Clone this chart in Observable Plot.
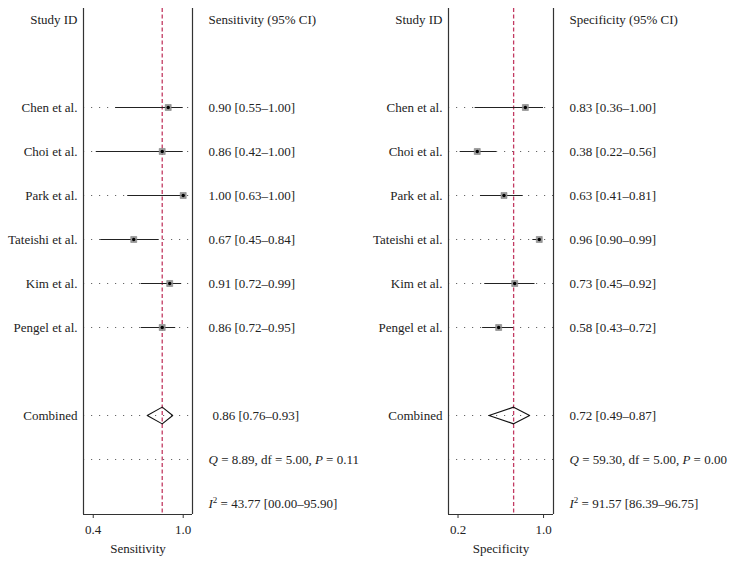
<!DOCTYPE html>
<html><head><meta charset="utf-8">
<script src="https://cdn.jsdelivr.net/npm/d3@7"></script>
<script src="https://cdn.jsdelivr.net/npm/@observablehq/plot@0.6"></script>
<style>
body{margin:0;background:#fff;}
#wrap{display:flex;width:737px;height:566px;}
#wrap svg{overflow:visible;}
</style></head><body><div id="wrap"></div>
<script>
// ---- data ----
const studies = ["Chen et al.", "Choi et al.", "Park et al.", "Tateishi et al.", "Kim et al.", "Pengel et al."];
const sens   = [0.90, 0.86, 1.00, 0.67, 0.91, 0.86];
const sensLo = [0.55, 0.42, 0.63, 0.45, 0.72, 0.72];
const sensHi = [1.00, 1.00, 1.00, 0.84, 0.99, 0.95];
const spec   = [0.83, 0.38, 0.63, 0.96, 0.73, 0.58];
const specLo = [0.36, 0.22, 0.41, 0.90, 0.45, 0.43];
const specHi = [1.00, 0.56, 0.81, 0.99, 0.92, 0.72];
const pooledSens = [0.86, 0.76, 0.93];   // estimate, lo, hi
const pooledSpec = [0.72, 0.49, 0.87];
const qStat = [8.89, 59.30];
const dfStat = [5.00, 5.00];
const pStat = [0.11, 0.00];
const i2Stat = [43.77, 91.57];
const i2Lo = [0.00, 86.39];
const i2Hi = [95.90, 96.75];
const sensTicks = [0.4, 1.0];
const specTicks = [0.2, 1.0];

// row layout (categorical order, top to bottom)
const rowKeys = ["header", "gap1", ...studies, "gap2", "Combined", "Q", "I2"];
const rowOf = k => rowKeys.indexOf(k);

const f2 = d3.format(".2f");
const f2p = d3.format("05.2f");
const FONT = "Liberation Serif";

function panel(o) {
  const rows = studies.map((s, i) => ({name: s, est: o.est[i], lo: o.lo[i], hi: o.hi[i], row: rowOf(s)}));
  const cRow = rowOf("Combined"), qRow = rowOf("Q"), iRow = rowOf("I2");
  const dotted = [...rows.map(d => d.row), cRow, qRow];
  const [pe, plo, phi] = o.pooled;
  const dh = 0.19;
  const diamond = [
    {x: plo, y: cRow}, {x: pe, y: cRow - dh}, {x: phi, y: cRow}, {x: pe, y: cRow + dh}, {x: plo, y: cRow}
  ];
  const yDomain = [-0.25, rowKeys.length - 0.75];
  const textBase = {fontFamily: FONT, fontSize: 13, fill: "#222"};
  const svg = Plot.plot({
    width: o.width, height: 566,
    marginLeft: o.marginLeft, marginRight: o.marginRight, marginTop: 8, marginBottom: 52,
    style: {fontFamily: FONT, fontSize: "13px", color: "#222", background: "white"},
    x: {domain: o.xDomain, axis: null},
    y: {domain: yDomain, reverse: true, axis: null},
    marks: [
      Plot.ruleY(dotted, {stroke: "#666", strokeWidth: 1, strokeDasharray: "1.2,6.8"}),
      Plot.ruleX([pe], {stroke: "#c23a62", strokeWidth: 1.3, strokeDasharray: "4,2.5"}),
      Plot.ruleY(rows, {y: "row", x1: "lo", x2: "hi", stroke: "#222", strokeWidth: 1}),
      Plot.dot(rows, {x: "est", y: "row", symbol: "square", r: 3.4, fill: "#9a9a9a", stroke: "#777", strokeWidth: 0.5}),
      Plot.dot(rows, {x: "est", y: "row", r: 1.7, fill: "#000"}),
      Plot.line(diamond, {x: "x", y: "y", stroke: "#111", strokeWidth: 1.1}),
      Plot.ruleX([o.xDomain[0], o.xDomain[1]], {stroke: "#333", strokeWidth: 1.2}),
      Plot.ruleY([yDomain[1]], {stroke: "#333", strokeWidth: 1.2}),
      Plot.axisX({ticks: o.ticks, tickFormat: ".1f", tickSize: 4, tickPadding: 6, label: null, fontSize: 13, stroke: "#333"}),
      Plot.text([o.axisLabel], {...textBase, frameAnchor: "bottom", dy: 38}),
      // left labels
      Plot.text([{t: "Study ID", row: rowOf("header")}], {...textBase, y: "row", text: "t", frameAnchor: "left", dx: -6, textAnchor: "end"}),
      Plot.text(rows, {...textBase, y: "row", text: "name", frameAnchor: "left", dx: -6, textAnchor: "end"}),
      Plot.text([{t: "Combined", row: cRow}], {...textBase, y: "row", text: "t", frameAnchor: "left", dx: -6, textAnchor: "end"}),
      // right labels
      Plot.text([{t: o.header, row: rowOf("header")}], {...textBase, y: "row", text: "t", frameAnchor: "right", dx: 16, textAnchor: "start"}),
      Plot.text(rows, {...textBase, y: "row", text: d => `${f2(d.est)} [${f2(d.lo)}–${f2(d.hi)}]`, frameAnchor: "right", dx: 16, textAnchor: "start"}),
      Plot.text([{t: `${f2(pe)} [${f2(plo)}–${f2(phi)}]`, row: cRow}], {...textBase, y: "row", text: "t", frameAnchor: "right", dx: o.combinedDx, textAnchor: "start"}),
      Plot.text([{t: `Q = ${f2(o.q)}, df = ${f2(o.df)}, P = ${f2(o.p)}`, row: qRow}], {...textBase, y: "row", text: "t", frameAnchor: "right", dx: 16, textAnchor: "start"}),
      Plot.text([{t: `I² = ${f2(o.i2)} [${f2p(o.i2lo)}–${f2p(o.i2hi)}]`, row: iRow}], {...textBase, y: "row", text: "t", frameAnchor: "right", dx: 16, textAnchor: "start"})
    ]
  });
  // italic statistic symbols
  const NS = "http://www.w3.org/2000/svg";
  const span = (parent, txt, attrs = {}) => {
    const t = document.createElementNS(NS, "tspan");
    for (const k in attrs) t.setAttribute(k, attrs[k]);
    t.textContent = txt; parent.appendChild(t);
  };
  svg.querySelectorAll("text").forEach(t => {
    const s = t.textContent;
    let m;
    if ((m = s.match(/^Q( = .*, )P( = .*)$/))) {
      t.textContent = "";
      t.setAttribute("xml:space", "preserve");
      span(t, "Q", {"font-style": "italic"});
      span(t, m[1]);
      span(t, "P", {"font-style": "italic"});
      span(t, m[2]);
    } else if ((m = s.match(/^I²( = .*)$/))) {
      t.textContent = "";
      t.setAttribute("xml:space", "preserve");
      span(t, "I", {"font-style": "italic"});
      span(t, "2", {"font-size": "9px", dy: "-5"});
      span(t, m[1], {dy: "5"});
    }
  });
  return svg;
}

const wrap = document.getElementById("wrap");
wrap.appendChild(panel({
  est: sens, lo: sensLo, hi: sensHi, pooled: pooledSens,
  q: qStat[0], df: dfStat[0], p: pStat[0], i2: i2Stat[0], i2lo: i2Lo[0], i2hi: i2Hi[0],
  header: "Sensitivity (95% CI)", axisLabel: "Sensitivity",
  xDomain: [0.335, 1.062], ticks: sensTicks,
  width: 368, marginLeft: 83, marginRight: 176, combinedDx: 20
}));
wrap.appendChild(panel({
  est: spec, lo: specLo, hi: specHi, pooled: pooledSpec,
  q: qStat[1], df: dfStat[1], p: pStat[1], i2: i2Stat[1], i2lo: i2Lo[1], i2hi: i2Hi[1],
  header: "Specificity (95% CI)", axisLabel: "Specificity",
  xDomain: [0.111, 1.093], ticks: specTicks,
  width: 369, marginLeft: 80, marginRight: 184, combinedDx: 16
}));
</script>
</body></html>
